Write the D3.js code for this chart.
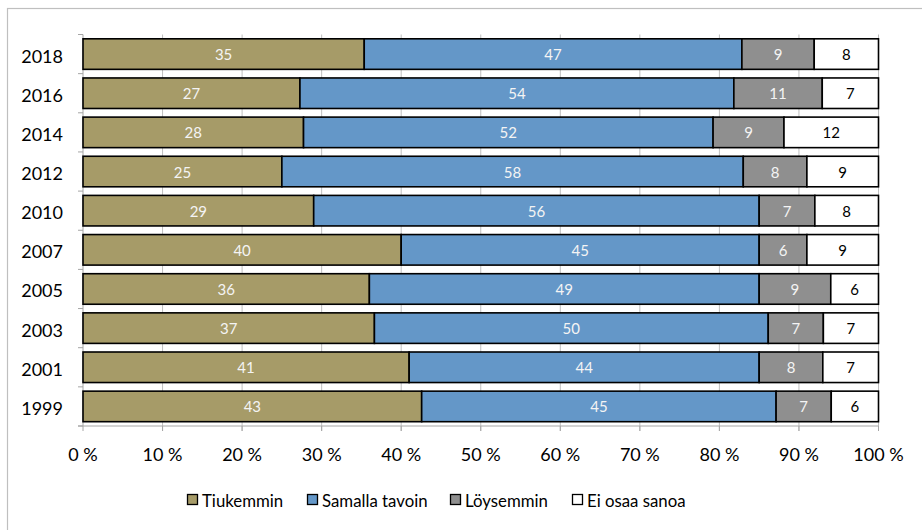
<!DOCTYPE html>
<html><head><meta charset="utf-8">
<script src="https://cdn.jsdelivr.net/npm/d3@7"></script>
<style>body{margin:0;background:#fff}svg{display:block;font-family:Lato,"Open Sans",sans-serif}</style>
</head><body><svg id="c" width="922" height="530"></svg>
<script>
const years = ["2018","2016","2014","2012","2010","2007","2005","2003","2001","1999"];
const series = ["Tiukemmin","Samalla tavoin","Löysemmin","Ei osaa sanoa"];
const tiukemmin = [35,27,28,25,29,40,36,37,41,43];
const samalla   = [47,54,52,58,56,45,49,50,44,45];
const loysemmin = [9,11,9,8,7,6,9,7,8,7];
const eiOsaa    = [8,7,12,9,8,9,6,7,7,6];
const xTicks = [0,10,20,30,40,50,60,70,80,90,100];
const colors = ["#A69B68","#6497C8","#8F8F8F","#FFFFFF"];
const labelColors = ["#F4F4F4","#F4F4F4","#F4F4F4","#000000"];

const svg = d3.select("#c");
svg.append("rect").attr("x",7.5).attr("y",8.5).attr("width",930).attr("height",540)
  .attr("fill","none").attr("stroke","#BFBFBF").attr("stroke-width",1.2);

const L=83, R=878.5, T=34.5, B=426;
const x = d3.scaleLinear().domain([0,100]).range([L,R]);
const y = d3.scaleBand().domain(years).range([T,B]).paddingInner(0.22).paddingOuter(0.11);

const rows = years.map((yr,i)=>{
  const vals=[tiukemmin[i],samalla[i],loysemmin[i],eiOsaa[i]];
  const tot=d3.sum(vals); let c=0;
  return vals.map((v,k)=>{const s=c/tot*100; c+=v; return {yr,k,v,s,e:c/tot*100};});
});

// gridlines
svg.append("g").selectAll("line").data(xTicks.slice(1)).join("line")
  .attr("x1",d=>x(d)).attr("x2",d=>x(d)).attr("y1",T).attr("y2",B+5)
  .attr("stroke","#BFBFBF").attr("stroke-width",1);

// y-axis line and ticks
const yStep = (B-T)/years.length;
svg.append("line").attr("x1",L).attr("x2",L).attr("y1",T).attr("y2",B).attr("stroke","#A6A6A6");
svg.append("g").selectAll("line").data(d3.range(years.length+1)).join("line")
  .attr("x1",L-5).attr("x2",L).attr("y1",d=>T+d*yStep).attr("y2",d=>T+d*yStep).attr("stroke","#A6A6A6");
// x-axis line
svg.append("line").attr("x1",L-5).attr("x2",R).attr("y1",B).attr("y2",B).attr("stroke","#A6A6A6");
svg.append("g").selectAll("line").data(xTicks).join("line")
  .attr("x1",d=>x(d)).attr("x2",d=>x(d)).attr("y1",B).attr("y2",B+5).attr("stroke","#A6A6A6");

// bars
const g = svg.append("g");
rows.flat().forEach(d=>{
  g.append("rect").attr("x",x(d.s)).attr("y",y(d.yr)).attr("width",x(d.e)-x(d.s)).attr("height",y.bandwidth())
    .attr("fill",colors[d.k]).attr("stroke","#000").attr("stroke-width",1.6);
  g.append("text").attr("x",(x(d.s)+x(d.e))/2).attr("y",y(d.yr)+y.bandwidth()/2+6)
    .attr("text-anchor","middle").attr("font-size",15).attr("fill",labelColors[d.k]).text(d.v);
});

// y labels
svg.append("g").selectAll("text").data(years).join("text")
  .attr("x",63).attr("y",d=>y(d)+y.bandwidth()/2+8.5).attr("text-anchor","end")
  .attr("font-size",18).attr("fill","#000").text(d=>d);
// x labels
svg.append("g").selectAll("text").data(xTicks).join("text")
  .attr("x",d=>x(d)).attr("y",461).attr("text-anchor","middle")
  .attr("font-size",18).attr("fill","#000").text(d=>d+" %");

// legend
const legX=[187,307,450,572];
const lg = svg.append("g");
series.forEach((s,i)=>{
  lg.append("rect").attr("x",legX[i]+0.5).attr("y",494.5).attr("width",10).attr("height",10)
    .attr("fill",colors[i]).attr("stroke","#000").attr("stroke-width",1.3);
  lg.append("text").attr("x",legX[i]+15).attr("y",507).attr("font-size",16.8).attr("fill","#000").text(s);
});
</script></body></html>
